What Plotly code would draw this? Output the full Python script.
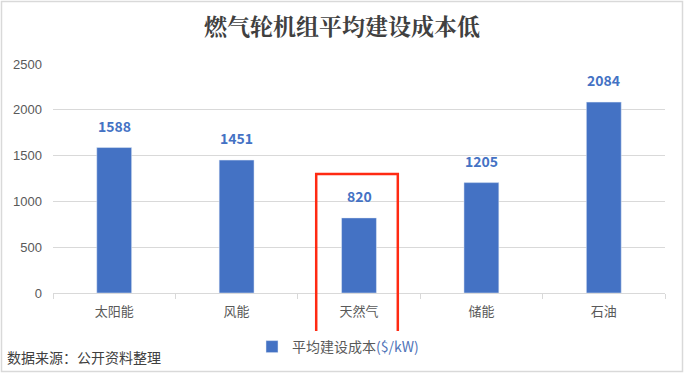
import plotly.graph_objects as go

categories = ["太阳能", "风能", "天然气", "储能", "石油"]
values = [1588, 1451, 820, 1205, 2084]
series_name = "平均建设成本<span style='color:#4F73B8'>($/kW)</span>"
title_text = "燃气轮机组平均建设成本低"
source_text = "数据来源：公开资料整理"

W, H = 684, 373
L, R, T, B = 53, 19, 64, 80
pw, ph = W - L - R, H - T - B


def px_x(x):
    return (x - L) / pw


def px_y(y):
    return (H - B - y) / ph


fig = go.Figure()
fig.add_trace(go.Bar(
    x=categories, y=values, name=series_name,
    marker_color="#4472C4", width=0.285,
    hoverinfo="x+y",
))

for c, v in zip(categories, values):
    fig.add_annotation(x=c, y=v, xref="x", yref="y", text="<b>%d</b>" % v,
                       showarrow=False, yanchor="bottom", yshift=10,
                       font=dict(family="Noto Sans CJK SC", size=14, color="#4472C4"))

fig.update_layout(
    width=W, height=H,
    margin=dict(l=L, r=R, t=T, b=B, autoexpand=False),
    paper_bgcolor="white", plot_bgcolor="white",
    title=dict(text="<b>" + title_text + "</b>", x=0.5, xref="container", xanchor="center",
               y=1 - 27 / H, yanchor="middle",
               font=dict(family="Noto Serif CJK SC, Noto Sans CJK SC", size=23, color="#404040")),
    showlegend=True,
    legend=dict(orientation="h", x=px_x(338), xanchor="center", y=px_y(347), yanchor="middle",
                font=dict(family="Noto Sans CJK SC", size=14, color="#595959"),
                itemwidth=30),
    font=dict(family="Noto Sans CJK SC", color="#595959"),
    bargap=0.7,
)
fig.update_xaxes(
    showgrid=False, showline=True, linecolor="#D9D9D9", linewidth=1,
    ticks="outside", tickson="boundaries", ticklen=5, tickcolor="#D9D9D9",
    tickfont=dict(family="Noto Sans CJK SC", size=13, color="#595959"),
    ticklabelstandoff=6,
)
fig.update_yaxes(
    range=[0, 2500], dtick=500, showgrid=True, gridcolor="#D9D9D9", gridwidth=1,
    zeroline=False, showline=False, ticks="",
    tickfont=dict(family="Liberation Sans, Arial", size=13, color="#595959"),
    ticklabelstandoff=10,
)

# red highlight box around 天然气
fig.add_shape(type="rect", xref="x", yref="paper",
              x0=2 - 43 / 123, x1=2 + 39 / 123, y0=px_y(335), y1=px_y(174),
              line=dict(color="#FF2A12", width=2.5), fillcolor="rgba(0,0,0,0)")

# outer border
fig.add_shape(type="rect", xref="paper", yref="paper",
              x0=px_x(1.5), x1=px_x(682.5), y0=px_y(371.5), y1=px_y(1.5),
              line=dict(color="#D9D9D9", width=1.5), fillcolor="rgba(0,0,0,0)")

fig.add_annotation(text=source_text, xref="paper", yref="paper",
                   x=px_x(5), y=px_y(357), xanchor="left", yanchor="middle",
                   showarrow=False,
                   font=dict(family="Noto Sans CJK SC", size=14, color="#404040"))

fig.write_html("out.html", config={"displayModeBar": False},
               post_script="document.body.style.margin='0';document.body.style.overflow='hidden';")
